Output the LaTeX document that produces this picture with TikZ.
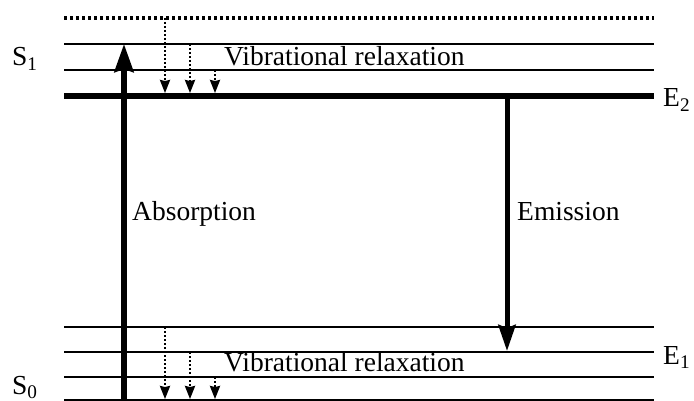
\documentclass[tikz,border=0pt]{standalone}
\usepackage{fontspec}
\setmainfont{Liberation Serif}
\usetikzlibrary{arrows.meta}
\begin{document}
\begin{tikzpicture}[x=1pt,y=-1pt,
  level/.style={line width=2pt},
  thicklevel/.style={line width=6.5pt},
  dotlevel/.style={line width=3.2pt,dash pattern=on 3.3pt off 2.7pt},
  bigarrow/.style={line width=5.5pt,-{Stealth[length=28pt,width=19pt,inset=3pt]}},
  relax/.style={line width=2.2pt,dash pattern=on 2pt off 2pt,-{Stealth[length=13pt,width=10pt,inset=1pt]}},
  lbl/.style={font=\fontsize{27.5}{30}\selectfont,inner sep=0pt}]
\useasboundingbox (0,0) rectangle (694,401);
% level coordinates
\coordinate (v3l) at (64,18);  \coordinate (v3r) at (654,18);
\coordinate (v2l) at (64,44);  \coordinate (v2r) at (654,44);
\coordinate (v1l) at (64,70);  \coordinate (v1r) at (654,70);
\coordinate (e2l) at (64,96);  \coordinate (e2r) at (654,96);
\coordinate (g3l) at (64,327); \coordinate (g3r) at (654,327);
\coordinate (g2l) at (64,352); \coordinate (g2r) at (654,352);
\coordinate (g1l) at (64,377); \coordinate (g1r) at (654,377);
\coordinate (e1l) at (64,399.5); \coordinate (e1r) at (654,399.5);
\draw[dotlevel] (v3l) -- (v3r);
\draw[level] (v2l) -- (v2r);
\draw[level] (v1l) -- (v1r);
\draw[thicklevel] (e2l) -- (e2r);
\draw[level] (g3l) -- (g3r);
\draw[level] (g2l) -- (g2r);
\draw[level] (g1l) -- (g1r);
\draw[level] (e1l) -- (e1r);
% absorption / emission
\coordinate (absA) at (124,401); \coordinate (absB) at (124,44);
\draw[bigarrow] (absA) -- (absB);
\coordinate (emA) at (507,96); \coordinate (emB) at (507,351);
\draw[bigarrow,line width=5pt,-{Stealth[length=26pt,width=17pt,inset=3pt]}] (emA) -- (emB);
% relaxation arrows top
\coordinate (t1a) at (165,18); \coordinate (t1b) at (165,93);
\coordinate (t2a) at (190,44); \coordinate (t2b) at (190,93);
\coordinate (t3a) at (215,70); \coordinate (t3b) at (215,93);
\draw[relax] (t1a) -- (t1b);
\draw[relax] (t2a) -- (t2b);
\draw[relax] (t3a) -- (t3b);
% relaxation arrows bottom
\coordinate (b1a) at (165,327); \coordinate (b1b) at (165,399);
\coordinate (b2a) at (190,352); \coordinate (b2b) at (190,399);
\coordinate (b3a) at (215,377); \coordinate (b3b) at (215,399);
\draw[relax] (b1a) -- (b1b);
\draw[relax] (b2a) -- (b2b);
\draw[relax] (b3a) -- (b3b);
% labels
\node[lbl,anchor=base west] (s1) at (12,66) {S\textsubscript{1}};
\node[lbl,anchor=base west] (s0) at (12,394) {S\textsubscript{0}};
\node[lbl,anchor=base west] (e2) at (663,107) {E\textsubscript{2}};
\node[lbl,anchor=base west] (e1) at (663,364) {E\textsubscript{1}};
\node[lbl,anchor=base west] (vr1) at (224,66) {Vibrational relaxation};
\node[lbl,anchor=base west] (vr2) at (224,371) {Vibrational relaxation};
\node[lbl,anchor=base west] (ab) at (132,221) {Absorption};
\node[lbl,anchor=base west] (em) at (517,221) {Emission};
\end{tikzpicture}
\end{document}
